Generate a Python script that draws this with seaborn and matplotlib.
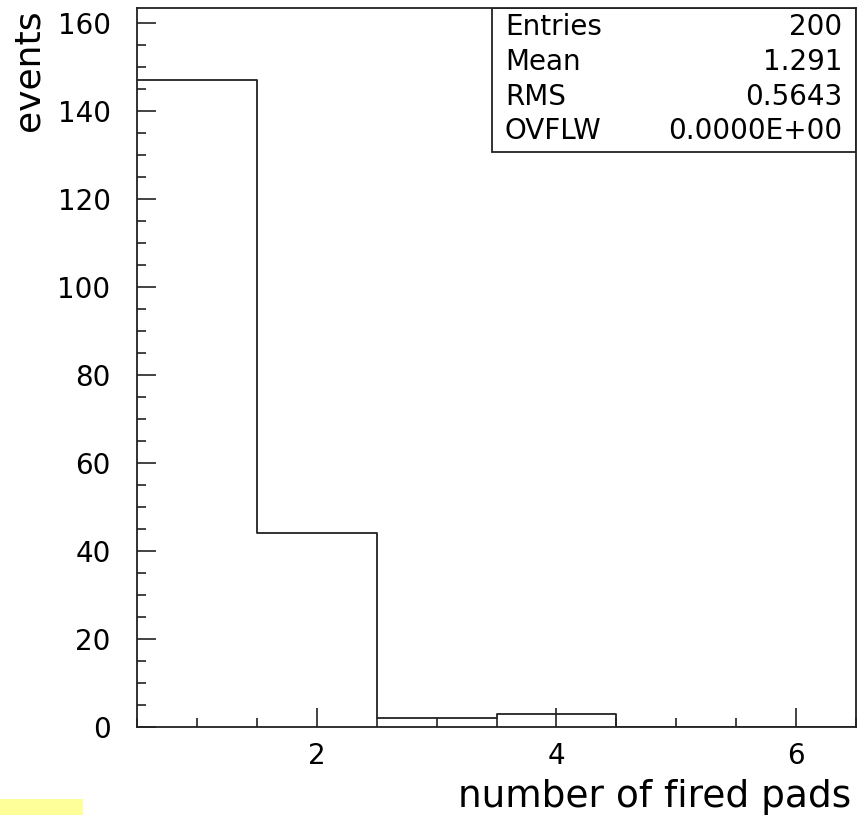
import numpy as np
import pandas as pd
import matplotlib
matplotlib.use("Agg")
import matplotlib.pyplot as plt
from matplotlib.patches import Rectangle
from matplotlib.ticker import MultipleLocator
import seaborn as sns

# Histogram contents: number of fired pads per event
pad_counts = [1, 2, 3, 4, 5, 6]
events = [147, 44, 2, 3, 0, 0]
bin_edges = [0.5, 1.5, 2.5, 3.5, 4.5, 5.5, 6.5]

# Statistics box
stat_names = ["Entries", "Mean", "RMS", "OVFLW"]
stat_values = ["200", "1.291", "0.5643", "0.0000E+00"]

sns.set_style("white")
plt.rcParams["font.family"] = ["DejaVu Sans"]

ink = "#222222"
fig = plt.figure(figsize=(8.61, 8.15), dpi=100)
ax = fig.add_axes([137 / 861, 1 - 727 / 815, 719 / 861, 719 / 815])

df = pd.DataFrame({"pads": pad_counts, "events": events})
sns.histplot(data=df, x="pads", weights="events", bins=bin_edges,
             element="step", fill=False, color=ink, linewidth=1.3, ax=ax)

ax.set_xlim(0.5, 6.5)
ax.set_ylim(0, 163.4)
ax.xaxis.set_major_locator(MultipleLocator(2))
ax.xaxis.set_minor_locator(MultipleLocator(0.5))
ax.yaxis.set_major_locator(MultipleLocator(20))
ax.yaxis.set_minor_locator(MultipleLocator(5))
ax.tick_params(which="both", direction="in", colors=ink, width=1.2,
               bottom=True, left=True, top=False, right=False)
ax.tick_params(which="major", length=14, labelsize=20, labelcolor="black")
ax.tick_params(which="minor", length=6.5)
ax.tick_params(axis="y", which="major", pad=19)
ax.tick_params(axis="x", which="major", pad=11)

for sp in ax.spines.values():
    sp.set_color(ink)
    sp.set_linewidth(1.3)
    sp.set_visible(True)

ax.set_xlabel("number of fired pads", fontsize=27, loc="right", color="black")
ax.xaxis.label.set_va("baseline")
ax.xaxis.set_label_coords(0.993, (727 - 807) / 719)
ax.set_ylabel("events", fontsize=26, loc="top", color="black")
ax.yaxis.label.set_va("baseline")
ax.yaxis.set_label_coords((39 - 137) / 719, (727 - 9) / 719)

# Statistics box in the upper right corner
box_left = (492 - 137) / 719
box_bottom = (727 - 152) / 719
ax.add_patch(Rectangle((box_left, box_bottom), 1 - box_left, 1 - box_bottom,
                       transform=ax.transAxes, fill=False, edgecolor=ink,
                       linewidth=1.3, zorder=5))
row_y = [(727 - py) / 719 for py in (27, 62, 97, 131)]
for name, value, y in zip(stat_names, stat_values, row_y):
    ax.text((505 - 137) / 719, y, name, transform=ax.transAxes,
            ha="left", va="center", fontsize=20, color="black")
    ax.text((842 - 137) / 719, y, value, transform=ax.transAxes,
            ha="right", va="center", fontsize=20, color="black")

fig.patches.append(Rectangle((0, 0), 83 / 861, 16 / 815, transform=fig.transFigure,
                             facecolor="#ffff99", edgecolor="none"))

fig.savefig("out.png", dpi=100)
